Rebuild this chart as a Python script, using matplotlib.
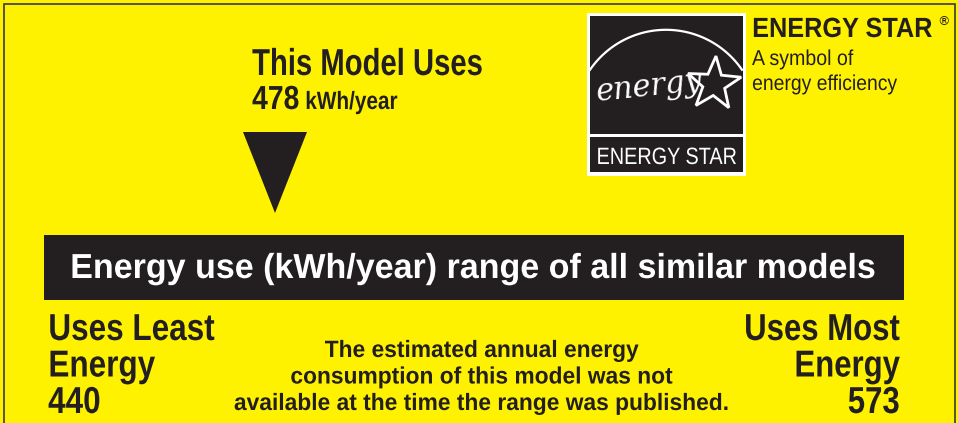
import numpy as np
import matplotlib
matplotlib.use('Agg')
import matplotlib.pyplot as plt
from matplotlib.patches import Rectangle, Polygon
from matplotlib.patheffects import AbstractPathEffect
from matplotlib.transforms import Affine2D

#-----------------------------------------------------------------------------------------------------------------------
# Label content
model_kwh = 478
least_kwh = 440
most_kwh = 573
unit = 'kWh/year'
header = 'This Model Uses'
bar_title = 'Energy use (kWh/year) range of all similar models'
least_lines = ['Uses Least', 'Energy']
most_lines = ['Uses Most', 'Energy']
note_lines = ['The estimated annual energy',
              'consumption of this model was not',
              'available at the time the range was published.']
star_title = 'ENERGY STAR'
star_lines = ['A symbol of', 'energy efficiency']

#-----------------------------------------------------------------------------------------------------------------------
# Style
yellow = '#FFF200'
ink = '#231F20'
sans = ['Liberation Sans', 'DejaVu Sans']


class Squeeze(AbstractPathEffect):
    # horizontal compression of the glyphs (label font is a condensed Helvetica)
    def __init__(self, sx, ha):
        super().__init__()
        self.sx = sx
        self.ha = ha

    def draw_path(self, renderer, gc, tpath, affine, rgbFace=None):
        ext = tpath.get_extents(affine)
        x0 = {'left': ext.x0, 'center': 0.5 * (ext.x0 + ext.x1), 'right': ext.x1}[self.ha]
        aff = affine + Affine2D().translate(-x0, 0).scale(self.sx, 1).translate(x0, 0)
        renderer.draw_path(gc, tpath, aff, rgbFace)


fig = plt.figure(figsize=(9.58, 4.23), dpi=100)
fig.patch.set_facecolor(yellow)
ax = fig.add_axes([0, 0, 1, 1])
ax.set_xlim(0, 958)
ax.set_ylim(423, 0)
ax.axis('off')


def txt(x, y, s, size, sx=1.0, ha='left', color=ink, weight='bold'):
    ax.text(x, y, s, fontsize=size, ha=ha, va='baseline', color=color,
            fontweight=weight, family=sans, path_effects=[Squeeze(sx, ha)])


# border (left, top, right)
ax.plot([4.5, 4.5, 955, 955], [423, 4.5, 4.5, 423], color='#3a3a3a', lw=1.2, solid_joinstyle='miter')

#-----------------------------------------------------------------------------------------------------------------------
# Model usage + arrow
txt(252, 75, header, 27, 0.78)
txt(252, 109, str(model_kwh), 24, 0.85)
txt(305, 109, unit, 18, 0.83)
ax.add_patch(Polygon([[243, 132], [307, 132], [275, 213]], closed=True, color=ink, lw=0))

# range bar
ax.add_patch(Rectangle((44, 235), 860, 65, color=ink, lw=0))
txt(473, 278, bar_title, 25, 0.98, ha='center', color='white')

# range ends
for i, s in enumerate(least_lines + [str(least_kwh)]):
    txt(48, 340 + i * 36.5, s, 27, 0.84)
for i, s in enumerate(most_lines + [str(most_kwh)]):
    txt(900, 340 + i * 36.5, s, 27, 0.83, ha='right')

for i, s in enumerate(note_lines):
    txt(482, 357 + i * 26.5, s, 17, 0.965, ha='center')

#-----------------------------------------------------------------------------------------------------------------------
# ENERGY STAR logo
ax.add_patch(Rectangle((587, 13), 159, 163, color='white', lw=0))
ax.add_patch(Rectangle((590, 16), 153, 118, color=ink, lw=0))
ax.add_patch(Rectangle((590, 137), 153, 35, color=ink, lw=0))
txt(666.5, 164, star_title, 17, 0.84, ha='center', color='white', weight='normal')

t = np.radians(np.linspace(145.5, 34.5, 100))
ax.plot(666 + 92.2 * np.cos(t), 122 - 92.2 * np.sin(t), color='white', lw=1.6)

ang = np.radians(90 - 4 + np.arange(10) * 36)
rad = np.where(np.arange(10) % 2 == 0, 28, 11.5)
ax.add_patch(Polygon(np.c_[714 + rad * np.cos(ang), 84 - rad * np.sin(ang)], closed=True,
                     fill=False, ec='white', lw=2))
ax.text(594, 101, 'energy', fontsize=22, color='white', family='DejaVu Serif',
        style='italic', va='baseline', rotation=6)

txt(752, 37, star_title, 20, 0.91)
ax.text(937, 25, '®', fontsize=9, color=ink, family='DejaVu Sans', va='baseline')
txt(752, 65, star_lines[0], 15.5, 0.91, weight='normal')
txt(752, 90, star_lines[1], 15.5, 0.90, weight='normal')

fig.savefig('out.png', dpi=100, facecolor=yellow)
